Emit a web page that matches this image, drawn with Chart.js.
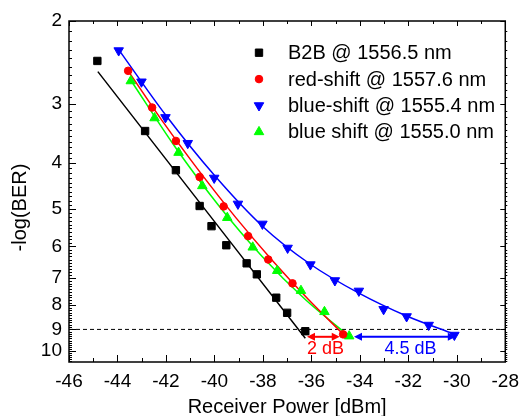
<!DOCTYPE html>
<html>
<head>
<meta charset="utf-8">
<script src="https://cdn.jsdelivr.net/npm/chart.js@4.4.0/dist/chart.umd.min.js"></script>
<style>
  html, body { margin: 0; padding: 0; background: #fff; }
  #wrap { width: 527px; height: 416px; }
</style>
</head>
<body>
<div id="wrap"><canvas id="chart" width="527" height="416"></canvas></div>
<script>
// measured points (received power in dBm, -log(BER))
const b2bX = [-44.83, -42.86, -41.59, -40.61, -40.12, -39.51, -38.67, -38.25, -37.45, -37.00, -36.25]
const b2bY = [2.43, 3.42, 4.14, 4.93, 5.44, 5.97, 6.52, 6.88, 7.71, 8.30, 9.08]

const redX = [-43.56, -42.57, -41.59, -40.61, -39.62, -38.61, -37.78, -36.78, -34.69]
const redY = [2.55, 3.05, 3.59, 4.28, 4.94, 5.71, 6.40, 7.19, 9.22]

const blueX = [-43.95, -43.01, -42.02, -41.10, -40.01, -39.03, -38.02, -36.98, -36.04, -35.03, -34.04, -33.02, -32.07, -31.16, -30.10]
const blueY = [2.31, 2.69, 3.20, 3.63, 4.30, 4.88, 5.38, 6.05, 6.56, 7.09, 7.46, 8.16, 8.45, 8.81, 9.25]

const greenX = [-43.45, -42.47, -41.48, -40.50, -39.47, -38.42, -37.41, -36.43, -35.46, -34.44]
const greenY = [2.68, 3.21, 3.80, 4.47, 5.22, 6.03, 6.76, 7.45, 8.26, 9.30]

// fitted curves
const b2bFitX = [-44.81, -36.25]
const b2bFitY = [2.56, 9.40]
const redFitX = [-43.56, -42.07, -40.58, -39.10, -37.61, -36.12, -34.68]
const redFitY = [2.55, 3.30, 4.19, 5.23, 6.43, 7.78, 9.22]
const greenFitX = [-43.45, -41.65, -39.85, -38.05, -36.24, -34.44]
const greenFitY = [2.67, 3.68, 4.90, 6.29, 7.79, 9.30]
const blueFitX = [-43.95, -42.02, -40.01, -38.02, -36.04, -34.04, -32.07, -30.10]
const blueFitY = [2.30, 3.16, 4.24, 5.44, 6.55, 7.54, 8.43, 9.21]

const seriesNames = ['B2B @ 1556.5 nm', 'red-shift @ 1557.6 nm', 'blue-shift @ 1555.4 nm', 'blue shift @ 1555.0 nm']
const yTicks = [2, 3, 4, 5, 6, 7, 8, 9, 10]
const threshold = 9

// power penalty arrows
const penaltyRed = [-36.18, -34.83]
const penaltyBlue = [-34.24, -30.04]
const penaltyY = 9.33
const penaltyText = ['2 dB', '4.5 dB']
const penaltyTextX = [-35.42, -31.91]

const FONT = "'Liberation Sans', Arial, sans-serif"
const pts = (xs, ys) => xs.map((x, i) => ({ x: x, y: ys[i] }))

const markerSet = (label, xs, ys, color, style, radius, rotation) => ({
  label: label,
  data: pts(xs, ys),
  showLine: false,
  pointStyle: style,
  pointRadius: radius,
  pointRotation: rotation || 0,
  pointBackgroundColor: color,
  pointBorderColor: color,
  pointBorderWidth: 1,
  order: 0
})

const fitSet = (xs, ys, color) => ({
  label: '',
  data: pts(xs, ys),
  showLine: true,
  pointRadius: 0,
  borderColor: color,
  borderWidth: 1.5,
  cubicInterpolationMode: 'monotone',
  order: 1
})

const legendItems = [
  { color: '#000000', style: 'rect', r: 5.2, rot: 0 },
  { color: '#ff0000', style: 'circle', r: 3.8, rot: 0 },
  { color: '#0000ff', style: 'triangle', r: 5.5, rot: 180 },
  { color: '#00ff00', style: 'triangle', r: 5.5, rot: 0 }
]

const drawMarker = (ctx, it, x, y) => {
  ctx.fillStyle = it.color
  ctx.strokeStyle = it.color
  ctx.lineWidth = 1
  ctx.beginPath()
  if (it.style == 'rect') {
    const s = Math.SQRT1_2 * it.r
    ctx.rect(x - s, y - s, 2 * s, 2 * s)
  } else if (it.style == 'circle') {
    ctx.arc(x, y, it.r, 0, Math.PI * 2)
  } else {
    let rad = it.rot * Math.PI / 180
    ctx.moveTo(x + Math.sin(rad) * it.r, y - Math.cos(rad) * it.r)
    rad += Math.PI * 2 / 3
    ctx.lineTo(x + Math.sin(rad) * it.r, y - Math.cos(rad) * it.r)
    rad += Math.PI * 2 / 3
    ctx.lineTo(x + Math.sin(rad) * it.r, y - Math.cos(rad) * it.r)
    ctx.closePath()
  }
  ctx.fill()
  ctx.stroke()
}

const arrow = (ctx, x1, x2, y, color) => {
  const head = 8, half = 4
  ctx.strokeStyle = color
  ctx.fillStyle = color
  ctx.lineWidth = 2
  ctx.beginPath()
  ctx.moveTo(x1 + head - 1, y)
  ctx.lineTo(x2 - head + 1, y)
  ctx.stroke()
  ctx.beginPath()
  ctx.moveTo(x1, y); ctx.lineTo(x1 + head, y - half); ctx.lineTo(x1 + head, y + half); ctx.closePath()
  ctx.fill()
  ctx.beginPath()
  ctx.moveTo(x2, y); ctx.lineTo(x2 - head, y - half); ctx.lineTo(x2 - head, y + half); ctx.closePath()
  ctx.fill()
}

const decor = {
  id: 'decor',
  afterDraw(chart) {
    const { ctx, chartArea: a, scales } = chart
    const x = scales.x, y = scales.y
    const seg = (x1, y1, x2, y2) => { ctx.beginPath(); ctx.moveTo(x1, y1); ctx.lineTo(x2, y2); ctx.stroke() }
    ctx.save()
    ctx.strokeStyle = '#000'
    ctx.lineWidth = 1.5
    ctx.strokeRect(a.left, a.top, a.right - a.left, a.bottom - a.top)

    // x ticks (bottom + top)
    ctx.lineWidth = 1
    for (let v = -46; v <= -28; v++) {
      const px = Math.round(x.getPixelForValue(v)) + 0.5
      const major = v % 2 == 0
      seg(px, a.bottom, px, a.bottom - (major ? 7 : 4))
      seg(px, a.top, px, a.top + (major ? 5 : 3))
    }
    // y ticks (left + right)
    for (let i = 20; i <= 105; i++) {
      const v = i / 10
      const py = Math.round(y.getPixelForValue(v)) + 0.5
      const major = i % 10 == 0
      seg(a.left, py, a.left + (major ? 7 : 3), py)
      seg(a.right, py, a.right + (major ? 0 : 2), py)
      if (major) seg(a.right, py, a.right - 5, py)
    }

    // penalty arrows and labels
    const ay = y.getPixelForValue(penaltyY)
    arrow(ctx, x.getPixelForValue(penaltyRed[0]), x.getPixelForValue(penaltyRed[1]), ay, '#ff0000')
    arrow(ctx, x.getPixelForValue(penaltyBlue[0]), x.getPixelForValue(penaltyBlue[1]), ay, '#0000ff')
    ctx.font = '18px ' + FONT
    ctx.textAlign = 'center'
    ctx.textBaseline = 'middle'
    ctx.fillStyle = '#ff0000'
    ctx.fillText(penaltyText[0], x.getPixelForValue(penaltyTextX[0]), ay + 12)
    ctx.fillStyle = '#0000ff'
    ctx.fillText(penaltyText[1], x.getPixelForValue(penaltyTextX[1]), ay + 12)

    // legend
    ctx.font = '20px ' + FONT
    ctx.textAlign = 'left'
    legendItems.forEach((it, i) => {
      const ly = 52.7 + i * 26.4
      drawMarker(ctx, it, 259, ly)
      ctx.fillStyle = '#000'
      ctx.textBaseline = 'middle'
      ctx.fillText(seriesNames[i], 288, ly + 1)
    })

    // axis titles
    ctx.fillStyle = '#000'
    ctx.textAlign = 'center'
    ctx.textBaseline = 'alphabetic'
    ctx.fillText('Receiver Power [dBm]', (a.left + a.right) / 2, 412.5)
    ctx.save()
    ctx.translate(20, 207.5)
    ctx.rotate(-Math.PI / 2)
    ctx.textBaseline = 'middle'
    ctx.fillText('-log(BER)', 0, 0)
    ctx.restore()
    ctx.restore()
  }
}

const config = {
  type: 'scatter',
  data: {
    datasets: [
      markerSet(seriesNames[0], b2bX, b2bY, '#000000', 'rect', 5.2),
      markerSet(seriesNames[1], redX, redY, '#ff0000', 'circle', 3.8),
      markerSet(seriesNames[2], blueX, blueY, '#0000ff', 'triangle', 5.5, 180),
      markerSet(seriesNames[3], greenX, greenY, '#00ff00', 'triangle', 5.5),
      fitSet(b2bFitX, b2bFitY, '#000000'),
      fitSet(redFitX, redFitY, '#ff0000'),
      fitSet(blueFitX, blueFitY, '#0000ff'),
      fitSet(greenFitX, greenFitY, '#00ff00'),
      {
        label: '',
        data: [{ x: -46, y: threshold }, { x: -28, y: threshold }],
        showLine: true,
        pointRadius: 0,
        borderColor: '#000000',
        borderWidth: 1,
        borderDash: [4, 3],
        order: 2
      }
    ]
  },
  options: {
    responsive: false,
    animation: false,
    devicePixelRatio: 1,
    layout: { padding: { top: 21, right: 16, left: 0, bottom: 0 } },
    plugins: {
      legend: { display: false },
      tooltip: { enabled: false }
    },
    scales: {
      x: {
        type: 'linear',
        min: -46,
        max: -28,
        ticks: { stepSize: 2, color: '#000', font: { size: 19, family: FONT }, padding: 8, maxRotation: 0 },
        grid: { display: false, drawTicks: false },
        border: { display: false },
        afterFit: (s) => { s.height = 54 }
      },
      y: {
        type: 'logarithmic',
        min: 2,
        max: 10.55,
        reverse: true,
        afterBuildTicks: (s) => { s.ticks = yTicks.map(v => ({ value: v })) },
        ticks: { color: '#000', font: { size: 19, family: FONT }, padding: 7, callback: (v) => String(v) },
        grid: { display: false, drawTicks: false },
        border: { display: false },
        afterFit: (s) => { s.width = 69 }
      }
    }
  },
  plugins: [decor]
}

new Chart(document.getElementById('chart').getContext('2d'), config)
</script>
</body>
</html>
